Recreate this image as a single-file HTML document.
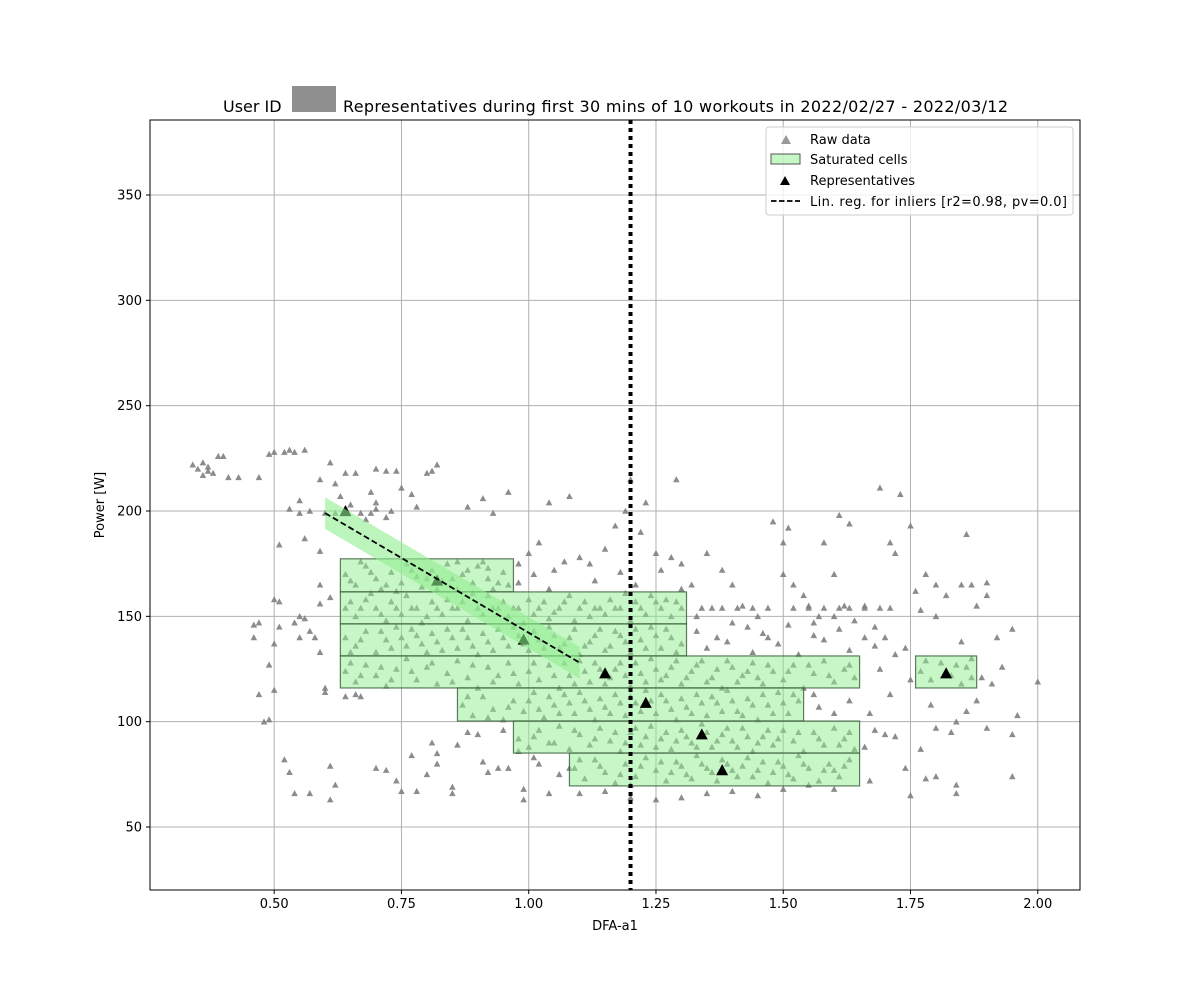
<!DOCTYPE html>
<html><head><meta charset="utf-8"><style>
body{margin:0;background:#fff;}
svg text{font-family:"DejaVu Sans","Liberation Sans",sans-serif;}
</style></head><body>
<svg id="chart" width="1200" height="1000" xmlns="http://www.w3.org/2000/svg">
<rect width="1200" height="1000" fill="#fff"/>
<g id="grid"></g>
<g id="raw"></g>
<g id="cells"></g>
<g id="reps"></g>
<g id="reg"></g>
<rect x="150" y="120" width="930" height="770" fill="none" stroke="#000" stroke-width="1"/>
<g id="ticks"></g>
<text x="223" y="112" font-size="16">User ID</text>
<rect x="292" y="86" width="44" height="26" fill="#8f8f8f"/>
<text x="343" y="112" font-size="16" textLength="665">Representatives during first 30 mins of 10 workouts in 2022/02/27 - 2022/03/12</text>
<text x="615" y="930" font-size="13" text-anchor="middle">DFA-a1</text>
<text x="104" y="505" font-size="13" text-anchor="middle" transform="rotate(-90 104 505)">Power [W]</text>
<g>
<rect x="766" y="127" width="307" height="88" rx="3" fill="#fff" fill-opacity="0.8" stroke="#ccc"/>
<path d="M781,144 l5,-9 l5,9 z" fill="#808080" fill-opacity="0.8"/>
<text x="810" y="144" font-size="13">Raw data</text>
<rect x="771" y="154" width="29" height="10" fill="#90ee90" fill-opacity="0.5" stroke="#555"/>
<text x="810" y="164" font-size="13">Saturated cells</text>
<path d="M780,185 l5,-9 l5,9 z" fill="#000"/>
<text x="810" y="185" font-size="13">Representatives</text>
<line x1="771" y1="201" x2="800" y2="201" stroke="#000" stroke-width="1.8" stroke-dasharray="5.5,2.5"/>
<text x="810" y="206" font-size="13" textLength="257">Lin. reg. for inliers [r2=0.98, pv=0.0]</text>
</g>
</svg>
<script>
const xTicks=[0.5,0.75,1.0,1.25,1.5,1.75,2.0];
const xTickLabels=["0.50","0.75","1.00","1.25","1.50","1.75","2.00"];
const yTicks=[50,100,150,200,250,300,350];
const yTickLabels=["50","100","150","200","250","300","350"];
const thresholdX=1.2;
const cellsX0=[0.51,0.63,0.63,0.63,0.63,0.86,0.97,1.08,1.76];
const cellsX1=[0.74,0.97,1.31,1.31,1.65,1.54,1.65,1.65,1.88];
const cellsY0=[193,177.3,161.6,146.4,131.2,116,100.3,85.1,131.2];
const cellsY1=[208,161.6,146.4,131.2,116,100.3,85.1,69.5,116];
const repsX=[0.64,0.82,0.99,1.15,1.23,1.34,1.38,1.82];
const repsY=[200,167,139,123,109,94,77,123];
const regX=[0.6,1.1];
const regY=[199,128];
const regBand=7.5;
const rawData=[
[0.34,222],[0.35,220],[0.36,223],[0.37,221],[0.37,219],[0.38,218],[0.36,217],[0.39,226],[0.40,226],[0.41,216],[0.43,216],[0.47,216],[0.49,227],[0.50,228],[0.52,228],[0.53,229],[0.54,228],[0.56,229],[0.59,215],[0.61,223],[0.62,213],[0.64,218],[0.66,218],[0.70,220],[0.72,219],[0.74,219],[0.77,208],[0.80,218],[0.82,222],[0.81,219],[0.69,209],[0.70,204],[0.75,211],[0.78,202],[0.88,202],[0.91,206],[0.93,199],[0.96,209],[1.04,204],[1.08,207],[1.17,193],[1.19,200],[1.20,215],[1.23,204],[1.29,215],
[0.47,113],[0.48,100],[0.49,101],[0.50,115],[0.50,137],[0.51,145],[0.50,158],[0.51,157],[0.51,184],[0.47,147],[0.46,140],[0.46,146],[0.49,127],[0.52,82],[0.53,76],[0.54,66],[0.55,150],[0.56,149],[0.55,140],[0.54,147],[0.57,143],[0.58,140],[0.59,133],[0.59,181],[0.56,187],[0.59,165],[0.59,156],[0.57,66],[0.60,116],[0.60,114],[0.61,79],[0.61,63],[0.62,70],[0.61,159],[0.64,112],[0.66,113],[0.67,112],[0.70,78],[0.72,77],[0.74,72],[0.75,67],[0.78,67],[0.77,84],[0.80,75],[0.81,90],[0.82,85],[0.82,80],[0.85,66],[0.85,69],[0.86,89],[0.88,95],[0.90,94],[0.91,81],[0.92,76],[0.94,78],[0.95,96],[0.96,78],[0.98,86],[0.99,63],[0.99,68],[1.01,83],[1.02,80],[1.04,66],[1.06,75],[1.08,78],
[1.66,155],[1.68,145],[1.70,140],[1.72,132],[1.69,211],[1.73,208],[1.71,185],[1.72,180],[1.75,193],[1.76,162],[1.77,153],[1.78,170],[1.80,165],[1.80,150],[1.82,160],[1.85,165],[1.86,189],[1.87,165],[1.88,155],[1.90,166],[1.90,160],[1.92,140],[1.93,126],[1.95,144],[1.96,103],[2.00,119],[1.95,94],[1.95,74],[1.90,97],[1.88,110],[1.86,105],[1.84,100],[1.83,95],[1.80,97],[1.78,73],[1.80,74],[1.77,87],[1.75,65],[1.74,78],[1.72,93],[1.70,94],[1.68,96],[1.67,104],[1.84,70],[1.84,66],[1.79,108],[1.75,120],[1.71,113],[1.69,125],[1.74,135],[1.89,121],[1.91,118],[1.87,130],[1.85,138],
[1.32,165],[1.35,180],[1.38,172],[1.40,165],[1.42,155],[1.45,150],[1.48,195],[1.50,185],[1.51,192],[1.50,170],[1.52,165],[1.55,155],[1.57,150],[1.58,185],[1.60,170],[1.61,198],[1.63,194],[1.60,150],[1.56,147],[1.47,140],[1.43,145],[1.37,140],[1.33,150],[1.30,175],[1.28,178],[1.25,180],[1.22,190],[1.15,182],[1.12,175],[1.10,178],[1.05,172],[1.02,185],[1.00,180],[0.98,175],[1.62,155],[1.64,148],[1.54,160],
[1.34,154],[1.36,154],[1.38,154],[1.41,154],[1.44,154],[1.47,154],[1.52,154],[1.55,154],[1.58,154],[1.61,154],[1.63,154],[1.66,154],[1.69,154],[1.71,154],[1.35,135],[1.39,138],[1.44,133],[1.49,137],[1.53,132],[1.58,139],[1.63,134],[1.66,140],
[0.98,166],[1.01,170],[1.04,163],[1.07,176],[1.13,167],[1.18,171],[1.21,165],[1.26,172],[1.30,163],[1.33,143],[1.40,147],[1.46,142],[1.51,146],[1.56,141],[1.61,144],[1.68,136],
[1.10,66],[1.15,67],[1.20,64],[1.25,63],[1.30,64],[1.35,66],[1.40,67],[1.45,65],[1.50,68],[1.55,70],[1.60,68],[1.20,70],[1.60,77],[1.66,88],[1.67,72],[1.57,107],[1.60,104],[1.63,110],[1.56,113],
[0.53,201],[0.55,199],[0.57,200],[0.60,199],[0.62,199],[0.65,203],[0.67,199],[0.69,199],[0.70,201],[0.72,197],[0.73,200],[0.55,205],[0.63,207],[0.68,196],
[0.64,170],[0.66,165],[0.68,174],[0.70,168],[0.71,163],[0.73,171],[0.75,166],[0.76,175],[0.78,169],[0.79,164],[0.81,172],[0.83,167],[0.84,175],[0.86,163],[0.87,170],[0.89,166],[0.90,174],[0.92,168],[0.93,163],[0.95,171],[0.96,165],[0.67,176],[0.74,162],[0.85,168],[0.91,176],
[0.65,167],[0.69,171],[0.72,165],[0.77,172],[0.80,168],[0.82,163],[0.88,172],[0.94,166],[0.92,173],[0.86,176],
[0.64,154],[0.66,150],[0.68,158],[0.70,154],[0.72,148],[0.74,154],[0.76,160],[0.78,154],[0.80,150],[0.82,154],[0.84,158],[0.86,154],[0.88,148],[0.90,154],[0.92,160],[0.94,154],[0.96,150],[0.98,154],[1.00,158],[1.02,154],[1.04,149],[1.06,154],[1.08,160],[1.10,154],[1.12,150],[1.14,154],[1.16,158],[1.18,154],[1.20,148],[1.22,154],[1.24,160],[1.26,154],[1.28,150],[1.30,154],[0.69,161],[0.79,147],[0.89,161],[0.99,147],[1.09,148],[1.19,161],[1.27,158],
[0.65,157],[0.67,154],[0.71,151],[0.73,157],[0.75,151],[0.77,154],[0.81,157],[0.83,151],[0.85,154],[0.87,157],[0.91,151],[0.93,154],[0.95,157],[0.97,154],[1.01,151],[1.03,157],[1.05,152],[1.07,157],[1.11,157],[1.13,154],[1.15,151],[1.17,154],[1.21,157],[1.23,151],[1.25,157],[1.29,157],
[0.64,140],[0.66,136],[0.68,143],[0.70,133],[0.72,139],[0.74,145],[0.76,136],[0.78,141],[0.80,133],[0.82,138],[0.84,144],[0.86,135],[0.88,140],[0.90,132],[0.92,138],[0.94,144],[0.96,136],[0.98,141],[1.00,134],[1.02,139],[1.04,145],[1.06,135],[1.08,140],[1.10,132],[1.12,138],[1.14,144],[1.16,136],[1.18,141],[1.20,133],[1.22,139],[1.24,145],[1.26,135],[1.28,140],[1.30,137],
[0.65,133],[0.67,139],[0.71,143],[0.73,135],[0.75,140],[0.77,144],[0.79,137],[0.81,142],[0.83,134],[0.85,140],[0.87,144],[0.89,136],[0.91,142],[0.93,134],[0.95,140],[0.97,145],[0.99,137],[1.01,143],[1.03,135],[1.05,141],[1.07,137],[1.09,144],[1.11,136],[1.13,141],[1.15,134],[1.17,143],[1.19,138],[1.21,144],[1.23,135],[1.25,141],[1.27,144],[1.29,133],
[0.64,124],[0.66,119],[0.68,127],[0.70,122],[0.72,117],[0.74,125],[0.76,130],[0.78,120],[0.80,126],[0.82,118],[0.84,123],[0.86,129],[0.88,121],[0.90,116],[0.92,126],[0.94,122],[0.96,128],[0.98,118],[1.00,124],[1.02,120],[1.04,127],[1.06,116],[1.08,122],[1.10,129],[1.12,119],[1.14,125],[1.16,121],[1.18,128],[1.20,117],[1.22,123],[1.24,130],[1.26,120],[1.28,126],[1.30,118],[1.32,124],[1.34,129],[1.36,121],[1.38,116],[1.40,126],[1.42,122],[1.44,128],[1.46,118],[1.48,124],[1.50,120],[1.52,127],[1.54,116],[1.56,123],[1.58,129],[1.60,119],[1.62,125],[1.64,121],
[0.65,128],[0.67,122],[0.71,126],[0.73,120],[0.77,124],[0.81,128],[0.85,119],[0.89,127],[0.93,119],[0.97,123],[1.01,128],[1.05,122],[1.07,128],[1.09,118],[1.11,124],[1.13,128],[1.15,118],[1.17,125],[1.19,122],[1.21,128],[1.23,119],[1.25,125],[1.27,122],[1.29,129],[1.31,121],[1.33,127],[1.35,119],[1.37,125],[1.39,129],[1.41,119],[1.43,124],[1.45,121],[1.47,127],[1.51,124],[1.55,127],[1.59,122],[1.63,127],
[0.87,108],[0.89,103],[0.91,112],[0.93,106],[0.95,101],[0.97,110],[0.99,105],[1.01,114],[1.03,102],[1.05,108],[1.07,113],[1.09,104],[1.11,110],[1.13,101],[1.15,107],[1.17,113],[1.19,103],[1.21,109],[1.23,115],[1.25,104],[1.27,110],[1.29,101],[1.31,107],[1.33,113],[1.35,103],[1.37,109],[1.39,115],[1.41,105],[1.43,111],[1.45,101],[1.47,108],[1.49,114],[1.51,104],[1.53,110],
[0.88,112],[0.92,102],[0.96,107],[1.00,110],[1.02,106],[1.04,112],[1.06,104],[1.08,109],[1.10,114],[1.12,106],[1.14,111],[1.16,104],[1.18,109],[1.20,112],[1.22,105],[1.24,110],[1.26,113],[1.28,106],[1.30,111],[1.32,104],[1.34,109],[1.36,112],[1.38,105],[1.40,110],[1.42,103],[1.44,108],[1.46,113],[1.48,104],[1.50,109],[1.52,113],
[0.98,92],[1.00,88],[1.02,96],[1.04,90],[1.06,98],[1.08,87],[1.10,94],[1.12,89],[1.14,97],[1.16,91],[1.18,86],[1.20,95],[1.22,89],[1.24,98],[1.26,92],[1.28,87],[1.30,96],[1.32,90],[1.34,99],[1.36,88],[1.38,94],[1.40,91],[1.42,97],[1.44,86],[1.46,93],[1.48,89],[1.50,96],[1.52,91],[1.54,86],[1.56,95],[1.58,89],[1.60,97],[1.62,92],[1.64,87],
[1.01,93],[1.05,90],[1.09,96],[1.13,92],[1.17,95],[1.19,90],[1.21,97],[1.23,93],[1.25,88],[1.27,95],[1.29,91],[1.31,93],[1.33,88],[1.35,95],[1.37,91],[1.39,97],[1.41,88],[1.43,93],[1.45,90],[1.47,96],[1.49,92],[1.53,95],[1.57,92],[1.61,89],[1.63,95],
[1.09,78],[1.11,73],[1.13,82],[1.15,76],[1.17,71],[1.19,80],[1.21,74],[1.23,83],[1.25,77],[1.27,72],[1.29,81],[1.31,75],[1.33,84],[1.35,78],[1.37,72],[1.39,80],[1.41,74],[1.43,83],[1.45,77],[1.47,71],[1.49,81],[1.51,75],[1.53,84],[1.55,78],[1.57,72],[1.59,80],[1.61,74],[1.63,82],
[1.10,82],[1.14,79],[1.18,75],[1.22,79],[1.26,81],[1.28,76],[1.30,79],[1.32,73],[1.34,80],[1.36,76],[1.38,82],[1.40,77],[1.42,79],[1.44,74],[1.46,81],[1.48,76],[1.50,79],[1.52,73],[1.54,80],[1.58,77],[1.62,79],
[1.77,124],[1.79,120],[1.81,128],[1.83,122],[1.85,118],[1.86,126],[1.78,129],[1.84,127],[1.87,121]
];
const NS="http://www.w3.org/2000/svg";
const X0=150,X1=1080,Y0=890,Y1=120,xmin=0.256,xmax=2.083,ymin=20.1,ymax=385.6;
function sx(v){return X0+(v-xmin)/(xmax-xmin)*(X1-X0);}
function sy(v){return Y0-(v-ymin)/(ymax-ymin)*(Y0-Y1);}
function mk(tag,attrs,parent){const e=document.createElementNS(NS,tag);for(const k in attrs)e.setAttribute(k,attrs[k]);parent.appendChild(e);return e;}
function tri(x,y,s){return `M${x-s},${y+s*0.85} L${x},${y-s} L${x+s},${y+s*0.85} Z`;}
const grid=document.getElementById('grid'),ticks=document.getElementById('ticks');
xTicks.forEach((t,i)=>{const x=sx(t);
 const g=mk('line',{x1:x,x2:x,y1:Y1,y2:Y0,stroke:'#b0b0b0','stroke-width':1},grid);
 
 
 mk('line',{x1:x,x2:x,y1:Y0,y2:Y0+4,stroke:'#000'},ticks);
 const tx=mk('text',{x:x,y:Y0+18,'font-size':13,'text-anchor':'middle'},ticks);tx.textContent=xTickLabels[i];
 
 });
yTicks.forEach((t,i)=>{const y=sy(t);
 const g=mk('line',{x1:X0,x2:X1,y1:y,y2:y,stroke:'#b0b0b0','stroke-width':1},grid);
 
 
 mk('line',{x1:X0-4,x2:X0,y1:y,y2:y,stroke:'#000'},ticks);
 const tx=mk('text',{x:X0-8,y:y+4.5,'font-size':13,'text-anchor':'end'},ticks);tx.textContent=yTickLabels[i];
 
 });
const raw=document.getElementById('raw');
rawData.forEach(p=>{const e=mk('path',{d:tri(sx(p[0]),sy(p[1]),3.3),fill:'#808080','fill-opacity':0.9},raw);
 
 });
const cells=document.getElementById('cells');
cellsX0.forEach((x0,i)=>{const e=mk('rect',{x:sx(x0),y:sy(cellsY0[i]),width:sx(cellsX1[i])-sx(x0),height:sy(cellsY1[i])-sy(cellsY0[i]),fill:'#90ee90','fill-opacity':0.5,stroke:'#3a5a3a','stroke-opacity':0.8,'stroke-width':1.2},cells);
 
 });
const reps=document.getElementById('reps');
repsX.forEach((x,i)=>{const e=mk('path',{d:tri(sx(x),sy(repsY[i]),6),fill:'#000'},reps);
 
 });
const reg=document.getElementById('reg');
const band=mk('polygon',{points:`${sx(regX[0])},${sy(regY[0]+regBand)} ${sx(regX[1])},${sy(regY[1]+regBand)} ${sx(regX[1])},${sy(regY[1]-regBand)} ${sx(regX[0])},${sy(regY[0]-regBand)}`,fill:'#90ee90','fill-opacity':0.6},reg);


const rl=mk('line',{x1:sx(regX[0]),y1:sy(regY[0]),x2:sx(regX[1]),y2:sy(regY[1]),stroke:'#000','stroke-width':1.8,'stroke-dasharray':'6,3'},reg);


const th=mk('line',{x1:sx(thresholdX),x2:sx(thresholdX),y1:Y1,y2:Y0,stroke:'#000','stroke-width':4,'stroke-dasharray':'4,4'},reg);


</script>
</body></html>
